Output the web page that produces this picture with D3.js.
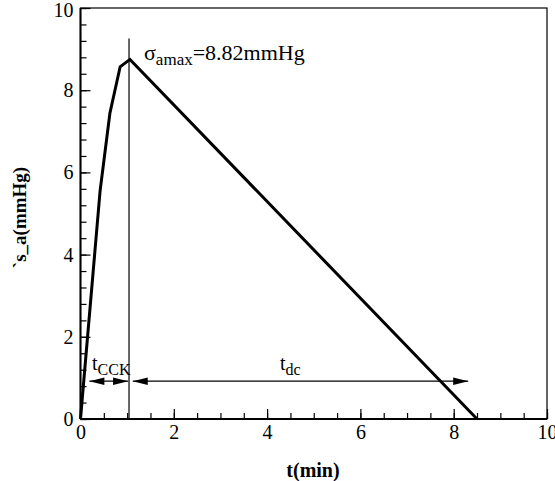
<!DOCTYPE html>
<html>
<head>
<meta charset="utf-8">
<script src="https://cdn.jsdelivr.net/npm/d3@7"></script>
<style>
html,body{margin:0;padding:0;background:#fff;}
</style>
</head>
<body>
<svg id="chart" width="555" height="481"></svg>
<script>
// ---- data ----
const tValues = [0, 0.42, 0.63, 0.85, 1.06, 8.5];
const sigmaValues = [0, 5.55, 7.44, 8.57, 8.75, 0];
const xTickValues = [0, 2, 4, 6, 8, 10];
const yTickValues = [0, 2, 4, 6, 8, 10];
const xDomain = [0, 10];
const yDomain = [0, 10];
const peakLineX = [1.04, 1.04];
const peakLineY = [0, 9.26];
const arrowY = 0.92;
const cckArrowX = [0.19, 1.02];
const dcArrowX = [1.12, 8.31];
const xTitle = "t(min)";
const yTitle = "`s_a(mmHg)";

// ---- layout ----
const FONT = "'Liberation Serif'";
const svg = d3.select("#chart");
const pLeft = 80.5, pRight = 547, pTop = 8, pBottom = 419;
const x = d3.scaleLinear().domain(xDomain).range([pLeft, pRight]);
const y = d3.scaleLinear().domain(yDomain).range([pBottom, pTop]);
const fs = 20;

// frame
svg.append("rect").attr("x", pLeft).attr("y", pTop)
  .attr("width", pRight - pLeft).attr("height", pBottom - pTop)
  .attr("fill", "none").attr("stroke", "#000").attr("stroke-width", 1.2);

// minor ticks
svg.append("g").attr("transform", `translate(0,${pBottom})`)
  .call(d3.axisBottom(x).tickValues(d3.range(0, 10.001, 0.5)).tickSize(-6).tickFormat(""))
  .call(g => g.select(".domain").remove())
  .call(g => g.selectAll("line").attr("stroke-width", 1.2));
svg.append("g").attr("transform", `translate(${pLeft},0)`)
  .call(d3.axisLeft(y).tickValues(d3.range(0, 10.001, 0.4)).tickSize(-6).tickFormat(""))
  .call(g => g.select(".domain").remove())
  .call(g => g.selectAll("line").attr("stroke-width", 1.2));

// major axes
const xAxis = svg.append("g").attr("transform", `translate(0,${pBottom})`)
  .call(d3.axisBottom(x).tickValues(xTickValues).tickSize(-10).tickPadding(6).tickFormat(d3.format("d")))
  .call(g => g.select(".domain").remove());
xAxis.selectAll("line").attr("stroke-width", 1.2);
xAxis.selectAll("text").attr("font-size", fs).style("font-family", FONT).attr("fill", "#000");

const yAxis = svg.append("g").attr("transform", `translate(${pLeft},0)`)
  .call(d3.axisLeft(y).tickValues(yTickValues).tickSize(-10).tickPadding(7).tickFormat(d3.format("d")))
  .call(g => g.select(".domain").remove());
yAxis.selectAll("line").attr("stroke-width", 1.2);
yAxis.selectAll("text").attr("font-size", fs).style("font-family", FONT).attr("fill", "#000");
yAxis.selectAll(".tick").filter(d => d === 10).select("text").attr("dy", "0.42em");

// thicker axis lines
svg.append("line").attr("x1", pLeft).attr("x2", pRight).attr("y1", pBottom).attr("y2", pBottom)
  .attr("stroke", "#000").attr("stroke-width", 2);
svg.append("line").attr("x1", pLeft).attr("x2", pLeft).attr("y1", pTop).attr("y2", pBottom)
  .attr("stroke", "#000").attr("stroke-width", 2);

// titles
svg.append("text").attr("x", 313).attr("y", 477)
  .attr("text-anchor", "middle").attr("font-weight", "bold").attr("font-size", 20)
  .style("font-family", FONT).text(xTitle);
svg.append("text").attr("transform", `translate(26,${(pTop + pBottom) / 2 + 4}) rotate(-90)`)
  .attr("text-anchor", "middle").attr("font-weight", "bold").attr("font-size", 19)
  .style("font-family", FONT).text(yTitle);

// curve
const pts = tValues.map((t, i) => [t, sigmaValues[i]]);
svg.append("path").datum(pts)
  .attr("d", d3.line().x(d => x(d[0])).y(d => y(d[1])))
  .attr("fill", "none").attr("stroke", "#000").attr("stroke-width", 3).attr("stroke-linejoin", "miter");

// peak vertical line
svg.append("line")
  .attr("x1", x(peakLineX[0])).attr("x2", x(peakLineX[1]))
  .attr("y1", y(peakLineY[0])).attr("y2", y(peakLineY[1]))
  .attr("stroke", "#000").attr("stroke-width", 1.2);

// arrows
function head(xt, yt, dir) {
  const L = 15, W = 3.8;
  return `M${xt},${yt}L${xt - dir * L},${yt - W}L${xt - dir * L},${yt + W}Z`;
}
function doubleArrow(xs) {
  const ya = y(arrowY), x1 = x(xs[0]), x2 = x(xs[1]);
  svg.append("line").attr("x1", x1).attr("x2", x2).attr("y1", ya).attr("y2", ya)
    .attr("stroke", "#000").attr("stroke-width", 1.2);
  svg.append("path").attr("d", head(x1, ya, -1)).attr("fill", "#000");
  svg.append("path").attr("d", head(x2, ya, 1)).attr("fill", "#000");
}
doubleArrow(cckArrowX);
doubleArrow(dcArrowX);

// labels
function subLabel(xp, yp, main, sub, mainSize, subSize) {
  const t = svg.append("text").attr("x", xp).attr("y", yp).attr("font-size", mainSize)
    .style("font-family", FONT);
  t.append("tspan").text(main);
  t.append("tspan").attr("font-size", subSize).attr("dy", 5).text(sub);
  return t;
}
subLabel(92, 370, "t", "CCK", 20, 16);
subLabel(280, 370, "t", "dc", 20, 16);
const ann = subLabel(144, 60, "σ", "amax", 22, 17);
ann.append("tspan").attr("dy", -5).text("=8.82mmHg");
</script>
</body>
</html>
